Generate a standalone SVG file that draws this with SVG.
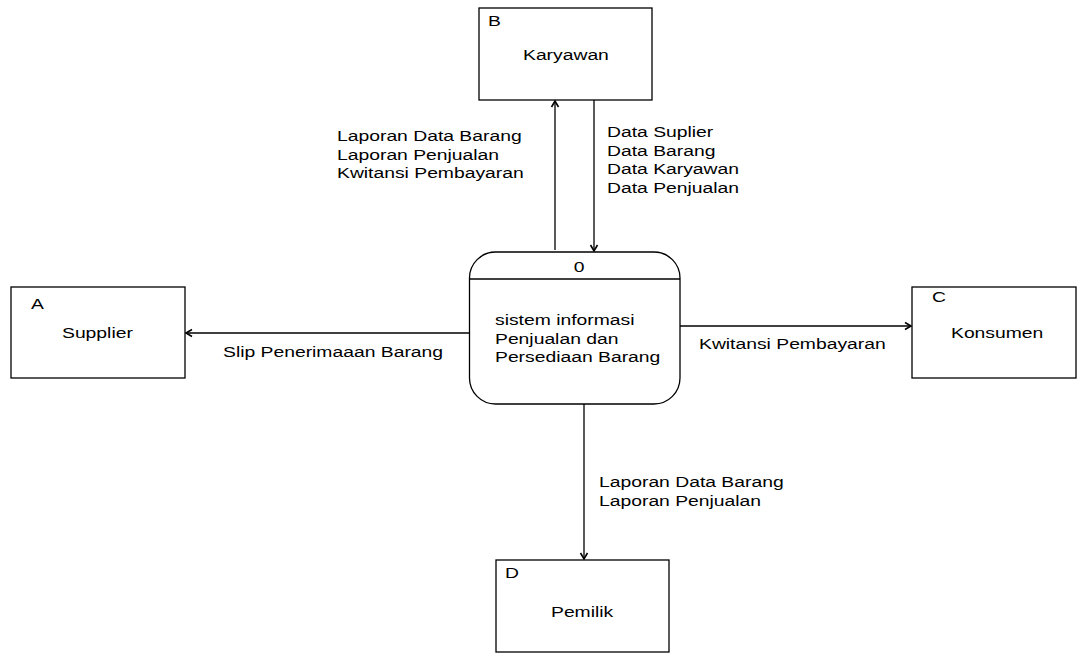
<svg xmlns="http://www.w3.org/2000/svg" width="1077" height="653" viewBox="0 0 1077 653">
<defs>
<style>
.box{fill:#fff;stroke:#000;stroke-width:1.3}
.t{font-family:"Liberation Sans",Arial,sans-serif;font-size:14px;fill:#000}
.c{fill:none;stroke:#000;stroke-width:1.3}
</style>
<marker id="ah" markerWidth="10" markerHeight="10" refX="8" refY="5" orient="auto" markerUnits="userSpaceOnUse">
<path d="M2,1.5 L8,5 L2,8.5" fill="none" stroke="#000" stroke-width="1.6"/>
</marker>
</defs>
<rect width="1077" height="653" fill="#fff"/>
<g id="connectors">
<line class="c" x1="555" y1="250" x2="555" y2="101" marker-end="url(#ah)"/>
<line class="c" x1="594" y1="100" x2="594" y2="251" marker-end="url(#ah)"/>
<line class="c" x1="469" y1="333" x2="186" y2="333" marker-end="url(#ah)"/>
<line class="c" x1="680" y1="326" x2="911" y2="326" marker-end="url(#ah)"/>
<line class="c" x1="584" y1="404" x2="584" y2="559" marker-end="url(#ah)"/>
<text class="t" transform="translate(337,141) scale(1.38,1)"><tspan x="0" y="0">Laporan Data Barang</tspan><tspan x="0" y="18.7">Laporan Penjualan</tspan><tspan x="0" y="37.4">Kwitansi Pembayaran</tspan></text>
<text class="t" transform="translate(607,137) scale(1.38,1)"><tspan x="0" y="0">Data Suplier</tspan><tspan x="0" y="18.7">Data Barang</tspan><tspan x="0" y="37.4">Data Karyawan</tspan><tspan x="0" y="56.1">Data Penjualan</tspan></text>
<text class="t" transform="translate(223,357) scale(1.38,1)">Slip Penerimaaan Barang</text>
<text class="t" transform="translate(699,349) scale(1.38,1)">Kwitansi Pembayaran</text>
<text class="t" transform="translate(599,487) scale(1.38,1)"><tspan x="0" y="0">Laporan Data Barang</tspan><tspan x="0" y="18.7">Laporan Penjualan</tspan></text>
</g>
<g id="process0">
<rect class="box" x="469.5" y="252" width="210.5" height="152" rx="26" ry="26"/>
<line class="c" x1="469.5" y1="279" x2="680" y2="279"/>
<text class="t" text-anchor="middle" transform="translate(579,272) scale(1.38,1)">0</text>
<text class="t" transform="translate(495,325) scale(1.38,1)"><tspan x="0" y="0">sistem informasi</tspan><tspan x="0" y="18.7">Penjualan dan</tspan><tspan x="0" y="37.4">Persediaan Barang</tspan></text>
</g>
<g id="entityB">
<rect class="box" x="479" y="8" width="173" height="92"/>
<text class="t" transform="translate(488,26) scale(1.38,1)">B</text>
<text class="t" transform="translate(523,60) scale(1.38,1)">Karyawan</text>
</g>
<g id="entityA">
<rect class="box" x="11" y="287" width="174" height="91"/>
<text class="t" transform="translate(31,309) scale(1.38,1)">A</text>
<text class="t" transform="translate(62,338) scale(1.38,1)">Supplier</text>
</g>
<g id="entityC">
<rect class="box" x="912" y="287" width="164" height="91"/>
<text class="t" transform="translate(932,302) scale(1.38,1)">C</text>
<text class="t" transform="translate(951,338) scale(1.38,1)">Konsumen</text>
</g>
<g id="entityD">
<rect class="box" x="496" y="560" width="173" height="92"/>
<text class="t" transform="translate(505,578) scale(1.38,1)">D</text>
<text class="t" transform="translate(551,617) scale(1.38,1)">Pemilik</text>
</g>
</svg>
